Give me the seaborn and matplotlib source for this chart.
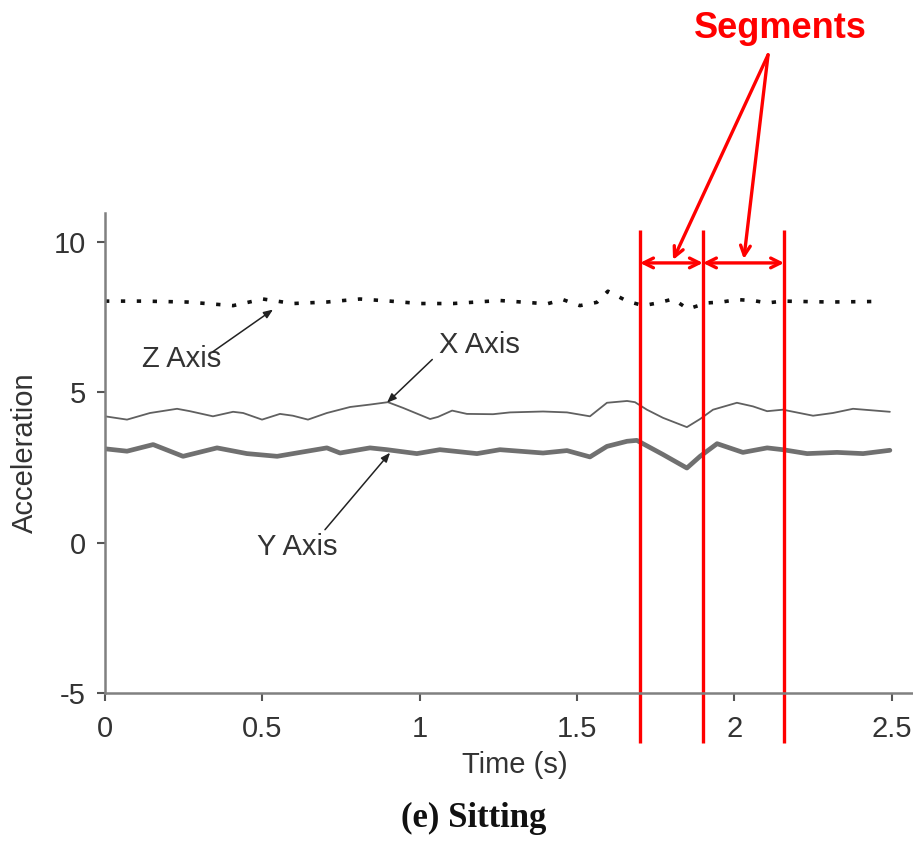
import matplotlib
matplotlib.use("Agg")
import matplotlib.pyplot as plt
import seaborn as sns
import pandas as pd

# ---------------- data ----------------
x_time = [0.0, 0.070, 0.143, 0.229, 0.270, 0.343, 0.407, 0.439, 0.499, 0.556, 0.597, 0.645, 0.705, 0.779, 0.842,
          0.899, 0.947, 1.033, 1.058, 1.103, 1.150, 1.233, 1.287, 1.392, 1.468, 1.541, 1.595, 1.659,
          1.684, 1.722, 1.773, 1.849, 1.891, 1.932, 2.008, 2.059, 2.104, 2.154, 2.250, 2.313, 2.377, 2.494]
x_vals = [4.20, 4.09, 4.31, 4.45, 4.37, 4.20, 4.35, 4.31, 4.09, 4.28, 4.22, 4.09, 4.31, 4.51, 4.59,
          4.67, 4.48, 4.11, 4.18, 4.39, 4.28, 4.27, 4.33, 4.36, 4.33, 4.20, 4.65, 4.71,
          4.67, 4.42, 4.15, 3.84, 4.11, 4.42, 4.65, 4.53, 4.37, 4.42, 4.22, 4.31, 4.45, 4.35]

y_time = [0.0, 0.070, 0.153, 0.248, 0.356, 0.451, 0.547, 0.620, 0.705, 0.747, 0.842,
          0.896, 0.991, 1.064, 1.182, 1.255, 1.392, 1.468, 1.541, 1.595, 1.659,
          1.690, 1.773, 1.849, 1.891, 1.945, 2.027, 2.104, 2.154, 2.231, 2.326, 2.409, 2.494]
y_vals = [3.12, 3.04, 3.26, 2.87, 3.15, 2.96, 2.87, 3.00, 3.15, 2.98, 3.15,
          3.09, 2.96, 3.09, 2.96, 3.09, 2.98, 3.06, 2.85, 3.20, 3.37,
          3.40, 2.93, 2.48, 2.87, 3.29, 3.00, 3.15, 3.09, 2.96, 3.00, 2.96, 3.07]

z_time = [0.0, 0.121, 0.261, 0.407, 0.502, 0.597, 0.705, 0.810, 0.906, 1.001, 1.106, 1.255,
          1.405, 1.455, 1.509, 1.563, 1.598, 1.659, 1.710, 1.757, 1.805, 1.852, 1.913, 1.960,
          2.008, 2.059, 2.104, 2.154, 2.304, 2.463]
z_vals = [8.03, 8.03, 8.00, 7.88, 8.10, 7.95, 8.00, 8.10, 8.03, 7.95, 7.95, 8.05,
          7.94, 8.08, 7.88, 7.99, 8.36, 8.03, 7.88, 7.97, 8.10, 7.77, 7.97, 8.00,
          8.08, 8.05, 7.97, 8.03, 8.00, 8.02]

segment_bounds = [1.70, 1.90, 2.158]
x_ticks = [0, 0.5, 1, 1.5, 2, 2.5]
x_tick_labels = ["0", "0.5", "1", "1.5", "2", "2.5"]
y_ticks = [-5, 0, 5, 10]
y_tick_labels = ["-5", "0", "5", "10"]

# ---------------- style ----------------
sns.set_style("ticks")
plt.rcParams["font.family"] = ["Liberation Sans", "DejaVu Sans"]
TXT = "#333333"
SPINE = "#808080"
FS = 21

fig = plt.figure(figsize=(9.13, 8.44), dpi=100)
ax = fig.add_axes([105 / 913, (844 - 693) / 844, 808 / 913, (693 - 213) / 844])

dfx = pd.DataFrame({"t": x_time, "v": x_vals})
dfy = pd.DataFrame({"t": y_time, "v": y_vals})
dfz = pd.DataFrame({"t": z_time, "v": z_vals})

sns.lineplot(data=dfy, x="t", y="v", ax=ax, color="#707070", lw=3.4, sort=False,
             solid_joinstyle="round", solid_capstyle="round")
sns.lineplot(data=dfx, x="t", y="v", ax=ax, color="#606060", lw=1.3, sort=False,
             solid_joinstyle="round")
sns.lineplot(data=dfz, x="t", y="v", ax=ax, color="#111111", lw=2.6, sort=False,
             linestyle=(0, (1.2, 3.2)))

ax.set_xlim(0, 808 / 314.7)
ax.set_ylim(-5, 10.96)
ax.set_xticks(x_ticks)
ax.set_xticklabels(x_tick_labels)
ax.set_yticks(y_ticks)
ax.set_yticklabels(y_tick_labels)

for s in ["top", "right"]:
    ax.spines[s].set_visible(False)
for s in ["left", "bottom"]:
    ax.spines[s].set_color(SPINE)
    ax.spines[s].set_linewidth(1.8)

ax.tick_params(axis="both", direction="out", length=6, width=1.5, color="#555555",
               labelsize=FS, labelcolor=TXT)
ax.tick_params(axis="x", pad=10)
ax.tick_params(axis="y", pad=8)

ax.set_xlabel("Time (s)", fontsize=FS, color=TXT)
ax.xaxis.set_label_coords(0.507, -0.12)
ax.set_ylabel("Acceleration", fontsize=FS, color=TXT)
ax.yaxis.set_label_coords(-0.082, 0.5)

# series labels with arrows
arrow_kw = dict(arrowstyle="-|>,head_length=0.55,head_width=0.22", color="#222222", lw=1.1,
                shrinkA=0, shrinkB=0)
ax.text(0.245, 6.09, "Z Axis", fontsize=FS, color=TXT, ha="center", va="center")
ax.annotate("", xy=(0.534, 7.75), xytext=(0.343, 6.35), arrowprops=arrow_kw)
ax.text(1.19, 6.58, "X Axis", fontsize=FS, color=TXT, ha="center", va="center")
ax.annotate("", xy=(0.896, 4.65), xytext=(1.04, 6.09), arrowprops=arrow_kw)
ax.text(0.61, -0.13, "Y Axis", fontsize=FS, color=TXT, ha="center", va="center")
ax.annotate("", xy=(0.906, 2.99), xytext=(0.699, 0.43), arrowprops=arrow_kw)

# segment markers
RED = "#ff0000"
for b in segment_bounds:
    ax.plot([b, b], [10.40, -6.66], color=RED, lw=2.4, clip_on=False, solid_capstyle="butt")
seg_kw = dict(arrowstyle="<->,head_length=0.7,head_width=0.35", color=RED, lw=2.4,
              shrinkA=0, shrinkB=0)
ax.annotate("", xy=(segment_bounds[0], 9.30), xytext=(segment_bounds[1], 9.30),
            arrowprops=seg_kw, annotation_clip=False)
ax.annotate("", xy=(segment_bounds[1], 9.30), xytext=(segment_bounds[2], 9.30),
            arrowprops=seg_kw, annotation_clip=False)
ptr_kw = dict(arrowstyle="->,head_length=0.7,head_width=0.35", color=RED, lw=2.4,
              shrinkA=0, shrinkB=0)
ax.annotate("", xy=(1.805, 9.40), xytext=(2.107, 16.22), arrowprops=ptr_kw,
            annotation_clip=False)
ax.annotate("", xy=(2.030, 9.43), xytext=(2.107, 16.22), arrowprops=ptr_kw,
            annotation_clip=False)
fig.text(780 / 913, 1 - 28 / 844, "Segments", fontsize=26, fontweight="bold", color=RED,
         ha="center", va="center")

fig.text(474 / 913, 1 - 818 / 844, "(e) Sitting", fontsize=25, fontweight="bold",
         family=["Liberation Serif", "DejaVu Serif"], color="#111111", ha="center", va="center")

fig.savefig("out.png", dpi=100)
